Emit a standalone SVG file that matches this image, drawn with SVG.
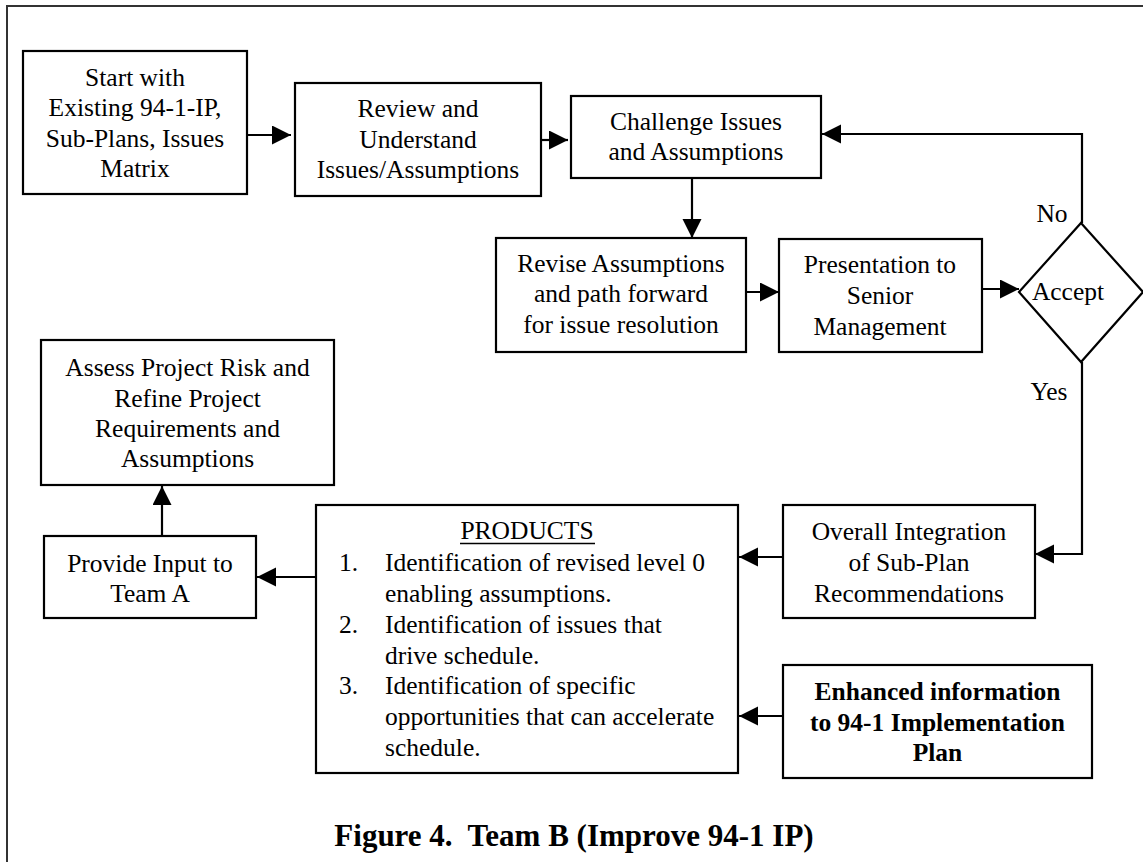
<svg xmlns="http://www.w3.org/2000/svg" width="1143" height="862" viewBox="0 0 1143 862">
  <style>
    .box { fill: #fff; stroke: #000; stroke-width: 2.2; }
    .frame { fill: none; stroke: #333; stroke-width: 2; }
    .t { font-family: "Liberation Serif", "Times New Roman", serif; font-size: 25.5px; fill: #000; }
    .c { text-anchor: middle; }
    .b { font-weight: bold; }
    .title { font-family: "Liberation Serif", "Times New Roman", serif; font-size: 31px; font-weight: bold; fill: #000; text-anchor: middle; white-space: pre; }
    .wire { fill: none; stroke: #000; stroke-width: 2.2; }
  </style>
  <defs>
    <marker id="arrow" markerUnits="userSpaceOnUse" markerWidth="20" markerHeight="20" refX="19" refY="9.5" orient="auto">
      <path d="M0,0 L19,9.5 L0,19 z" fill="#000"/>
    </marker>
  </defs>

  <rect width="1143" height="862" fill="#fff"/>
  <!-- page frame (runs off the right and bottom edges) -->
  <rect class="frame" x="7" y="6" width="1200" height="900"/>

  <!-- connectors -->
  <g id="connectors">
    <line class="wire" x1="247" y1="135" x2="291" y2="135" marker-end="url(#arrow)"/>
    <line class="wire" x1="541" y1="140" x2="568" y2="140" marker-end="url(#arrow)"/>
    <line class="wire" x1="692" y1="178" x2="692" y2="238" marker-end="url(#arrow)"/>
    <line class="wire" x1="746" y1="292" x2="779" y2="292" marker-end="url(#arrow)"/>
    <line class="wire" x1="982" y1="289" x2="1019" y2="289" marker-end="url(#arrow)"/>
    <polyline class="wire" points="1082,223 1082,134 822,134" marker-end="url(#arrow)"/>
    <polyline class="wire" points="1082,362 1082,554 1035,554" marker-end="url(#arrow)"/>
    <line class="wire" x1="783" y1="557" x2="739" y2="557" marker-end="url(#arrow)"/>
    <line class="wire" x1="783" y1="716" x2="739" y2="716" marker-end="url(#arrow)"/>
    <line class="wire" x1="316" y1="577" x2="257" y2="577" marker-end="url(#arrow)"/>
    <line class="wire" x1="162" y1="536" x2="162" y2="486" marker-end="url(#arrow)"/>
  </g>

  <g id="start">
    <rect class="box" x="23" y="51" width="224" height="143"/>
    <text class="t c" x="135" y="85.5">Start with</text>
    <text class="t c" x="135" y="116">Existing 94-1-IP,</text>
    <text class="t c" x="135" y="146.5">Sub-Plans, Issues</text>
    <text class="t c" x="135" y="177">Matrix</text>
  </g>

  <g id="review">
    <rect class="box" x="295" y="83" width="246" height="113"/>
    <text class="t c" x="418" y="117">Review and</text>
    <text class="t c" x="418" y="148">Understand</text>
    <text class="t c" x="418" y="178">Issues/Assumptions</text>
  </g>

  <g id="challenge">
    <rect class="box" x="571" y="96" width="250" height="82"/>
    <text class="t c" x="696" y="130">Challenge Issues</text>
    <text class="t c" x="696" y="160">and Assumptions</text>
  </g>

  <g id="revise">
    <rect class="box" x="496" y="238" width="250" height="114"/>
    <text class="t c" x="621" y="272">Revise Assumptions</text>
    <text class="t c" x="621" y="302">and path forward</text>
    <text class="t c" x="621" y="333">for issue resolution</text>
  </g>

  <g id="presentation">
    <rect class="box" x="779" y="239" width="203" height="113"/>
    <text class="t c" x="880" y="273">Presentation to</text>
    <text class="t c" x="880" y="304">Senior</text>
    <text class="t c" x="880" y="335">Management</text>
  </g>

  <g id="accept">
    <polygon class="box" points="1081,223 1143,292 1081,362 1019,292"/>
    <text class="t c" x="1068" y="300">Accept</text>
  </g>

  <g id="labels">
    <text class="t c" x="1052" y="222">No</text>
    <text class="t c" x="1049" y="400">Yes</text>
  </g>

  <g id="assess">
    <rect class="box" x="41" y="340" width="293" height="145"/>
    <text class="t c" x="187.5" y="376">Assess Project Risk and</text>
    <text class="t c" x="187.5" y="407">Refine Project</text>
    <text class="t c" x="187.5" y="437">Requirements and</text>
    <text class="t c" x="187.5" y="467">Assumptions</text>
  </g>

  <g id="provide">
    <rect class="box" x="44" y="536" width="212" height="82"/>
    <text class="t c" x="150" y="572">Provide Input to</text>
    <text class="t c" x="150" y="602">Team A</text>
  </g>

  <g id="products">
    <rect class="box" x="316" y="505" width="422" height="268"/>
    <text class="t c" x="527" y="539">PRODUCTS</text>
    <line x1="460" y1="543.5" x2="595" y2="543.5" stroke="#000" stroke-width="1.6"/>
    <text class="t" x="339" y="571">1.</text>
    <text class="t" x="385" y="571">Identification of revised level 0</text>
    <text class="t" x="385" y="602">enabling assumptions.</text>
    <text class="t" x="339" y="632.5">2.</text>
    <text class="t" x="385" y="632.5">Identification of issues that</text>
    <text class="t" x="385" y="663.5">drive schedule.</text>
    <text class="t" x="339" y="694">3.</text>
    <text class="t" x="385" y="694">Identification of specific</text>
    <text class="t" x="385" y="725">opportunities that can accelerate</text>
    <text class="t" x="385" y="755.5">schedule.</text>
  </g>

  <g id="integration">
    <rect class="box" x="783" y="505" width="252" height="113"/>
    <text class="t c" x="909" y="540">Overall Integration</text>
    <text class="t c" x="909" y="571">of Sub-Plan</text>
    <text class="t c" x="909" y="602">Recommendations</text>
  </g>

  <g id="enhanced">
    <rect class="box" x="783" y="665" width="309" height="113"/>
    <text class="t c b" x="937.5" y="700">Enhanced information</text>
    <text class="t c b" x="937.5" y="731">to 94-1 Implementation</text>
    <text class="t c b" x="937.5" y="761">Plan</text>
  </g>

  <text class="title" x="574" y="846" xml:space="preserve">Figure 4.  Team B (Improve 94-1 IP)</text>
</svg>
